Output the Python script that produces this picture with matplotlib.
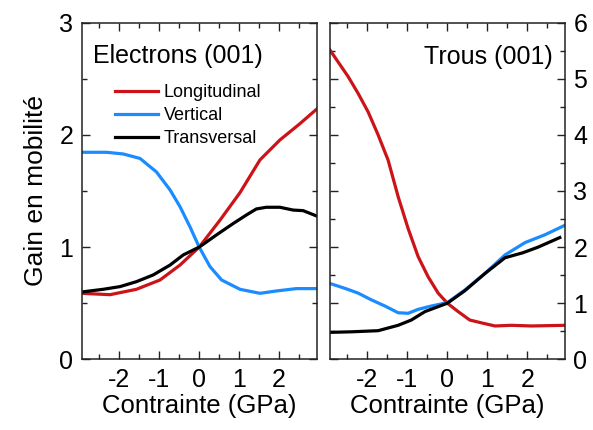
import matplotlib
matplotlib.use("Agg")
import matplotlib.pyplot as plt
from matplotlib.ticker import MultipleLocator

plt.rcParams['font.family'] = ['Liberation Sans', 'DejaVu Sans']

# Electrons (001)
e_long_x = [-2.94, -2.23, -1.57, -0.98, -0.48, 0.0, 0.52, 1.02, 1.52, 2.02, 2.52, 2.94]
e_long_y = [0.588, 0.576, 0.624, 0.707, 0.84, 1.0, 1.24, 1.485, 1.777, 1.955, 2.10, 2.23]
e_vert_x = [-2.94, -2.32, -1.9, -1.48, -1.07, -0.73, -0.48, -0.23, 0.0, 0.27, 0.56, 1.02, 1.52, 1.93, 2.43, 2.94]
e_vert_y = [1.845, 1.845, 1.83, 1.79, 1.67, 1.51, 1.36, 1.18, 1.0, 0.826, 0.707, 0.624, 0.588, 0.609, 0.63, 0.63]
e_trans_x = [-2.94, -2.4, -1.98, -1.57, -1.15, -0.73, -0.4, 0.0, 0.43, 0.85, 1.18, 1.43, 1.68, 2.02, 2.35, 2.6, 2.94]
e_trans_y = [0.60, 0.624, 0.648, 0.692, 0.752, 0.84, 0.93, 1.0, 1.108, 1.21, 1.286, 1.34, 1.355, 1.355, 1.33, 1.325, 1.277]

# Trous (001)
h_long_x = [-2.95, -2.48, -2.23, -1.98, -1.73, -1.48, -1.23, -0.98, -0.73, -0.48, -0.23, 0.0, 0.27, 0.56, 0.85, 1.19, 1.6, 2.1, 2.94]
h_long_y = [5.53, 5.04, 4.74, 4.41, 4.0, 3.55, 2.9, 2.33, 1.83, 1.47, 1.18, 1.0, 0.85, 0.70, 0.65, 0.594, 0.606, 0.594, 0.606]
h_vert_x = [-2.95, -2.56, -2.23, -1.9, -1.56, -1.23, -0.98, -0.73, -0.4, 0.0, 0.44, 0.94, 1.44, 1.94, 2.44, 2.94]
h_vert_y = [1.355, 1.265, 1.18, 1.06, 0.95, 0.83, 0.82, 0.89, 0.95, 1.01, 1.236, 1.53, 1.86, 2.08, 2.22, 2.39]
h_trans_x = [-2.95, -2.4, -1.73, -1.23, -0.9, -0.56, 0.0, 0.44, 0.94, 1.44, 1.89, 2.27, 2.81]
h_trans_y = [0.48, 0.49, 0.51, 0.606, 0.70, 0.85, 1.0, 1.224, 1.53, 1.81, 1.90, 2.0, 2.17]

labels = ["Longitudinal", "Vertical", "Transversal"]
colors = ["#cc1418", "#1a8cff", "#000000"]
xticks = [-2, -1, 0, 1, 2]

W, H = 593, 430
fig = plt.figure(figsize=(W / 100, H / 100), dpi=100)
ax1 = fig.add_axes([81.7 / W, (H - 359.3) / H, 235 / W, 336.6 / H])
ax2 = fig.add_axes([329.7 / W, (H - 359.3) / H, 235.3 / W, 336.6 / H])

lw = 2.3
ax1.plot(e_long_x, e_long_y, color=colors[0], lw=lw, label=labels[0])
ax1.plot(e_vert_x, e_vert_y, color=colors[1], lw=lw, label=labels[1])
ax1.plot(e_trans_x, e_trans_y, color=colors[2], lw=lw, label=labels[2])
ax2.plot(h_long_x, h_long_y, color=colors[0], lw=lw)
ax2.plot(h_vert_x, h_vert_y, color=colors[1], lw=lw)
ax2.plot(h_trans_x, h_trans_y, color=colors[2], lw=lw)

ax1.set_ylim(0, 3)
ax2.set_ylim(0, 6)
for ax in (ax1, ax2):
    ax.set_xlim(-2.94, 2.94)
    ax.set_xticks(xticks)
    ax.set_xticklabels([str(t) for t in xticks])
    ax.xaxis.set_minor_locator(MultipleLocator(0.5))
    ax.yaxis.set_major_locator(MultipleLocator(1))
    ax.yaxis.set_minor_locator(MultipleLocator(0.5))
    ax.tick_params(which='both', direction='in', top=True, right=True, left=True, bottom=True,
                   labelsize=18, width=1.0, color='#222222')
    ax.tick_params(which='major', length=6, pad=6)
    ax.tick_params(which='minor', length=3.5)
    for s in ax.spines.values():
        s.set_linewidth(1.1)
        s.set_color('#222222')
    ax.set_xlabel("Contrainte (GPa)", fontsize=18.5, labelpad=2)

ax2.tick_params(which='both', labelleft=False, labelright=True)
ax1.set_ylabel("Gain en mobilité", fontsize=19, labelpad=8)

ax1.text(0.05, 0.9, "Electrons (001)", transform=ax1.transAxes, fontsize=18, va='center', ha='left')
ax2.text(0.95, 0.897, "Trous (001)", transform=ax2.transAxes, fontsize=18, va='center', ha='right')

ax1.legend(loc='upper left', bbox_to_anchor=(0.142, 0.818), frameon=False, fontsize=13,
           handlelength=2.4, handletextpad=0.3, labelspacing=0.33, borderpad=0, borderaxespad=0)

fig.savefig("out.png", dpi=100)
